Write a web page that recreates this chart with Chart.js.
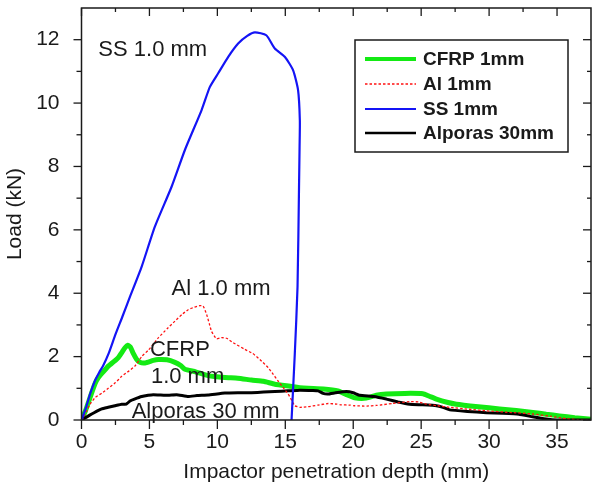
<!DOCTYPE html>
<html>
<head>
<meta charset="utf-8">
<script src="https://cdn.jsdelivr.net/npm/chart.js@4.4.1/dist/chart.umd.min.js"></script>
<style>
  html, body { margin: 0; padding: 0; background: #fff; }
  canvas { display: block; }
</style>
</head>
<body>
<canvas id="grafico" width="592" height="494"></canvas>
<script>
// curvas: profundidade (mm) x carga (kN)
const cfrpX = [0, 0.3, 0.63, 1.0, 1.24, 1.6, 1.97, 2.4, 2.71, 3.0, 3.2, 3.4, 3.6, 3.81, 4.05, 4.3, 4.67, 5.28, 5.65, 6.3, 6.88, 7.3, 7.61, 8.4, 9.32, 10.55, 11.5, 12.51, 13.4, 14.23, 15.5, 16.07, 16.68, 17.8, 18.88, 19.5, 20.11, 20.97, 21.7, 22.44, 23.8, 25.13, 25.6, 26.12, 26.9, 27.59, 29.2, 30.77, 32.0, 33.22, 34.2, 35.18, 36.3, 37.5];
const cfrpY = [0, 0.3, 0.71, 1.15, 1.34, 1.52, 1.7, 1.85, 1.97, 2.15, 2.28, 2.36, 2.3, 2.1, 1.92, 1.82, 1.8, 1.88, 1.91, 1.9, 1.82, 1.72, 1.6, 1.52, 1.4, 1.34, 1.32, 1.26, 1.22, 1.13, 1.06, 1.02, 1.0, 0.98, 0.92, 0.8, 0.7, 0.69, 0.78, 0.82, 0.84, 0.83, 0.75, 0.66, 0.56, 0.5, 0.42, 0.35, 0.3, 0.24, 0.18, 0.13, 0.07, 0.02];

const alX = [0, 0.13, 0.4, 0.63, 0.99, 1.5, 1.97, 2.5, 2.96, 3.5, 3.93, 4.43, 4.91, 5.3, 5.65, 6.3, 6.88, 7.4, 7.85, 8.3, 8.71, 8.95, 9.21, 9.4, 9.57, 9.94, 10.3, 10.68, 11.16, 12.02, 12.6, 13.13, 13.74, 14.1, 14.47, 14.85, 15.21, 15.5, 15.7, 16.07, 16.68, 17.4, 18.15, 18.8, 19.13, 19.74, 20.11, 21.0, 21.7, 22.9, 24.15, 24.8, 25.38, 26.2, 27.1, 28.5, 29.8, 31.5, 33.22, 34.5, 35.68, 36.5, 37.5];
const alY = [0, 0.08, 0.3, 0.5, 0.7, 0.85, 1.0, 1.18, 1.38, 1.55, 1.7, 2.0, 2.2, 2.4, 2.59, 2.88, 3.12, 3.33, 3.48, 3.56, 3.61, 3.6, 3.33, 3.05, 2.8, 2.56, 2.6, 2.58, 2.44, 2.23, 2.1, 1.91, 1.65, 1.45, 1.23, 1.02, 0.82, 0.6, 0.45, 0.4, 0.42, 0.47, 0.52, 0.5, 0.48, 0.47, 0.45, 0.44, 0.46, 0.52, 0.58, 0.57, 0.5, 0.45, 0.4, 0.34, 0.29, 0.24, 0.19, 0.12, 0.04, 0.01, 0];

const ssX = [0, 0.3, 0.63, 1.0, 1.3, 1.6, 2.0, 2.5, 3.0, 3.57, 4.43, 5.4, 6.63, 7.61, 8.84, 9.45, 10.06, 10.8, 11.53, 12.2, 12.76, 13.6, 14.23, 14.96, 15.57, 15.94, 16.07, 16.05, 16.01, 15.9, 15.7, 15.46];
const ssY = [0, 0.35, 0.82, 1.25, 1.5, 1.72, 2.1, 2.7, 3.25, 3.89, 4.84, 6.1, 7.36, 8.52, 9.78, 10.51, 10.94, 11.46, 11.88, 12.12, 12.23, 12.14, 11.72, 11.46, 11.04, 10.41, 9.46, 8.6, 7.36, 4.2, 2.1, 0];

const alporasX = [0, 0.4, 0.75, 1.1, 1.49, 1.97, 2.46, 2.96, 3.3, 3.57, 3.9, 4.43, 4.91, 5.28, 6.38, 7.0, 7.85, 8.5, 9.32, 10.55, 11.5, 12.51, 13.4, 14.23, 15.2, 16.07, 17.04, 17.41, 17.78, 18.15, 18.7, 19.5, 20.0, 20.48, 21.5, 22.44, 23.3, 24.15, 25.0, 26.12, 26.6, 27.1, 28.4, 29.8, 31.0, 32.2, 33.2, 34.2, 35.0, 37.5];
const alporasY = [0, 0.1, 0.19, 0.27, 0.35, 0.4, 0.45, 0.5, 0.5, 0.6, 0.66, 0.74, 0.78, 0.8, 0.78, 0.8, 0.74, 0.77, 0.79, 0.85, 0.86, 0.86, 0.88, 0.9, 0.92, 0.94, 0.93, 0.92, 0.84, 0.82, 0.86, 0.9, 0.86, 0.78, 0.74, 0.66, 0.57, 0.5, 0.48, 0.45, 0.4, 0.32, 0.27, 0.23, 0.21, 0.18, 0.1, 0.03, 0, 0];

const serieNomes = ['CFRP 1mm', 'Al 1mm', 'SS 1mm', 'Alporas 30mm'];
const xTicks = [0, 5, 10, 15, 20, 25, 30, 35];
const xMinor = [2.5, 7.5, 12.5, 17.5, 22.5, 27.5, 32.5];
const yTicks = [0, 2, 4, 6, 8, 10, 12];
const yMinor = [1, 3, 5, 7, 9, 11];
// rótulos dentro do gráfico (posição em mm / kN)
const notas = [
  { txt: 'SS 1.0 mm', x: 1.24, y: 11.48 },
  { txt: 'Al 1.0 mm', x: 6.63, y: 3.94 },
  { txt: 'CFRP', x: 5.04, y: 2.02 },
  { txt: '1.0 mm', x: 5.11, y: 1.18 },
  { txt: 'Alporas 30 mm', x: 3.69, y: 0.06 },
];

const pontos = (xs, ys) => xs.map((x, i) => ({ x, y: ys[i] }));
const FONTE = '"Liberation Sans", Arial, sans-serif';
const TINTA = '#1a1a1a';

const desenho = {
  id: 'desenho',
  afterDraw(chart) {
    const { ctx, chartArea: a, scales: { x, y } } = chart;
    ctx.save();
    // moldura
    ctx.strokeStyle = TINTA; ctx.lineWidth = 1.5;
    ctx.strokeRect(a.left, a.top, a.right - a.left, a.bottom - a.top);
    // marcas dos eixos
    const marca = (x1, y1, x2, y2) => { ctx.beginPath(); ctx.moveTo(x1, y1); ctx.lineTo(x2, y2); ctx.stroke(); };
    ctx.lineWidth = 1.3;
    xTicks.forEach(v => { const p = x.getPixelForValue(v); marca(p, a.bottom, p, a.bottom + 9); marca(p, a.top, p, a.top + 8); });
    xMinor.forEach(v => { const p = x.getPixelForValue(v); marca(p, a.bottom, p, a.bottom + 5); marca(p, a.top, p, a.top + 4); });
    yTicks.forEach(v => { const p = y.getPixelForValue(v); marca(a.left - 8, p, a.left, p); marca(a.right - 8, p, a.right, p); });
    yMinor.forEach(v => { const p = y.getPixelForValue(v); marca(a.left - 5, p, a.left, p); marca(a.right - 4, p, a.right, p); });

    // anotações
    ctx.fillStyle = TINTA; ctx.font = '22px ' + FONTE;
    ctx.textAlign = 'left'; ctx.textBaseline = 'alphabetic';
    notas.forEach(n => ctx.fillText(n.txt, x.getPixelForValue(n.x), y.getPixelForValue(n.y)));

    // legenda com moldura
    const L = 355, T = 40, W = 213, H = 112;
    ctx.fillStyle = '#fff'; ctx.fillRect(L, T, W, H);
    ctx.strokeStyle = TINTA; ctx.lineWidth = 1.5; ctx.strokeRect(L, T, W, H);
    ctx.font = 'bold 19px ' + FONTE; ctx.textBaseline = 'middle';
    const linhas = [59, 84, 109, 133];
    chart.data.datasets.forEach((ds, i) => {
      const ly = linhas[i];
      ctx.strokeStyle = ds.borderColor;
      ctx.lineWidth = ds.legendaLargura;
      ctx.setLineDash(ds.borderDash || []);
      marca(365, ly, 416, ly);
      ctx.setLineDash([]);
      ctx.fillStyle = TINTA;
      ctx.fillText(ds.label, 423, ly + 1);
    });
    ctx.restore();
  },
};

new Chart(document.getElementById('grafico'), {
  type: 'line',
  data: {
    datasets: [
      { label: serieNomes[0], data: pontos(cfrpX, cfrpY), borderColor: '#14ea14', borderWidth: 5, legendaLargura: 4, order: 4, tension: 0.15 },
      { label: serieNomes[1], data: pontos(alX, alY), borderColor: '#ff1010', borderWidth: 1.3, borderDash: [2.5, 2], legendaLargura: 1.3, order: 2, tension: 0.15 },
      { label: serieNomes[2], data: pontos(ssX, ssY), borderColor: '#1414f5', borderWidth: 2.2, legendaLargura: 2, order: 1, tension: 0.2 },
      { label: serieNomes[3], data: pontos(alporasX, alporasY), borderColor: '#000', borderWidth: 3, legendaLargura: 2.5, order: 3, tension: 0.1 },
    ],
  },
  options: {
    responsive: false, animation: false, devicePixelRatio: 1,
    layout: { padding: { top: 8, right: 1, left: 0, bottom: 0 } },
    elements: { point: { radius: 0 }, line: { fill: false, borderJoinStyle: 'round' } },
    plugins: { legend: { display: false }, tooltip: { enabled: false } },
    scales: {
      x: {
        type: 'linear', min: 0, max: 37.5,
        afterBuildTicks: s => { s.ticks = xTicks.map(v => ({ value: v })); },
        afterFit: s => { s.height = 74; s.paddingLeft = 0; s.paddingRight = 0; },
        grid: { display: false }, border: { display: false },
        ticks: { color: TINTA, font: { family: FONTE, size: 21 }, padding: 2, maxRotation: 0 },
        title: { display: true, text: 'Impactor penetration depth (mm)', color: TINTA,
          font: { family: FONTE, size: 21 }, padding: { top: 0, bottom: 9 } },
      },
      y: {
        type: 'linear', min: 0, max: 13,
        afterBuildTicks: s => { s.ticks = yTicks.map(v => ({ value: v })); },
        afterFit: s => { s.width = 81.5; s.paddingTop = 0; s.paddingBottom = 0; },
        grid: { display: false }, border: { display: false },
        ticks: { color: TINTA, font: { family: FONTE, size: 21 }, padding: 14 },
        title: { display: true, text: 'Load (kN)', color: TINTA,
          font: { family: FONTE, size: 21 }, padding: { top: 3, bottom: 0 } },
      },
    },
  },
  plugins: [desenho],
});
</script>
</body>
</html>
